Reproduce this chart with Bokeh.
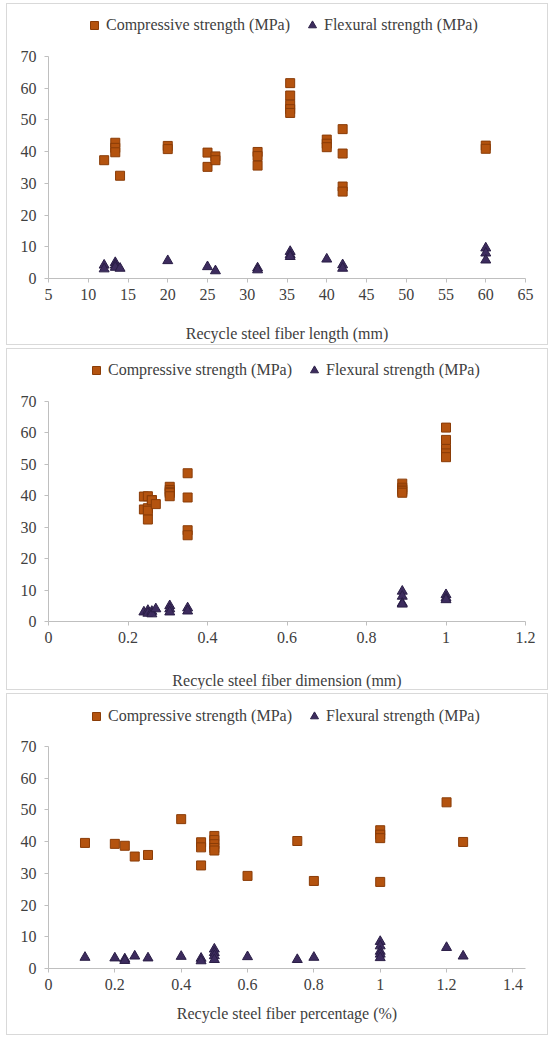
from bokeh.plotting import figure
from bokeh.models import Range1d, FixedTicker, Legend, LegendItem
from bokeh.layouts import column
from bokeh.embed import file_html
from bokeh.resources import INLINE

# ---------------- data ----------------
# Panel 1: fiber length (mm)
len_x_c = [12, 13.4, 13.4, 13.4, 14, 20, 20, 25, 25, 26, 26, 31.3, 31.3, 31.3,
           35.4, 35.4, 35.4, 35.4, 35.4, 40, 40, 40, 42, 42, 42, 42, 60, 60]
len_y_c = [37.3, 42.8, 41.2, 39.8, 32.4, 41.8, 40.8, 39.7, 35.2, 38.5, 37.3, 39.9, 38.6, 35.6,
           61.6, 57.7, 54.8, 53.4, 52.2, 43.8, 42.5, 41.4, 47.1, 39.4, 29.0, 27.4, 41.9, 40.9]
len_x_f = [12, 12, 13.4, 13.4, 13.4, 14, 20, 25, 26, 31.3, 31.3, 35.4, 35.4, 35.4,
           40, 42, 42, 60, 60, 60]
len_y_f = [4.2, 3.0, 5.0, 4.2, 3.5, 3.2, 5.6, 3.7, 2.4, 3.3, 2.7, 8.5, 7.5, 6.9,
           6.1, 4.3, 3.2, 9.6, 8.0, 5.8]

# Panel 2: fiber dimension (mm)
dim_x_c = [0.24, 0.24, 0.25, 0.25, 0.25, 0.25, 0.26, 0.26, 0.27, 0.305, 0.305, 0.305, 0.305, 0.305,
           0.35, 0.35, 0.35, 0.35, 0.89, 0.89, 0.89, 0.89, 0.89, 1.0, 1.0, 1.0, 1.0, 1.0]
dim_y_c = [39.7, 35.6, 39.8, 36.0, 35.2, 32.4, 38.6, 38.5, 37.3, 42.8, 41.8, 41.2, 40.8, 39.8,
           47.1, 39.4, 29.0, 27.4, 43.8, 42.5, 41.9, 41.4, 40.9, 61.6, 57.7, 54.8, 53.4, 52.2]
dim_x_f = [0.24, 0.25, 0.25, 0.26, 0.26, 0.27, 0.305, 0.305, 0.305, 0.35, 0.35,
           0.89, 0.89, 0.89, 0.89, 1.0, 1.0, 1.0]
dim_y_f = [3.0, 3.5, 2.6, 3.2, 2.4, 4.0, 5.0, 4.0, 3.0, 4.3, 3.3,
           9.6, 8.0, 5.8, 5.5, 8.5, 7.5, 6.9]

# Panel 3: fiber percentage (%)
pct_x_c = [0.11, 0.2, 0.23, 0.26, 0.3, 0.4, 0.46, 0.46, 0.46, 0.5, 0.5, 0.5, 0.5, 0.5,
           0.6, 0.75, 0.8, 1.0, 1.0, 1.0, 1.0, 1.2, 1.25]
pct_y_c = [39.6, 39.3, 38.7, 35.3, 35.8, 47.1, 39.8, 38.2, 32.5, 41.8, 40.5, 39.2, 38.0, 37.2,
           29.2, 40.2, 27.6, 43.6, 42.2, 41.1, 27.3, 52.4, 39.9]
pct_x_f = [0.11, 0.2, 0.23, 0.23, 0.26, 0.3, 0.4, 0.46, 0.46, 0.5, 0.5, 0.5, 0.5,
           0.6, 0.75, 0.8, 1.0, 1.0, 1.0, 1.0, 1.0, 1.2, 1.25]
pct_y_f = [3.5, 3.3, 3.0, 2.5, 3.9, 3.3, 3.8, 3.2, 2.4, 6.1, 5.0, 4.0, 2.8,
           3.7, 2.8, 3.5, 8.5, 7.1, 5.4, 4.5, 3.4, 6.6, 3.9]

series_names = ["Compressive strength (MPa)", "Flexural strength (MPa)"]

y_ticks = [0, 10, 20, 30, 40, 50, 60, 70]
y_labels = ["0", "10", "20", "30", "40", "50", "60", "70"]
len_ticks = [5, 10, 15, 20, 25, 30, 35, 40, 45, 50, 55, 60, 65]
len_labels = ["5", "10", "15", "20", "25", "30", "35", "40", "45", "50", "55", "60", "65"]
dim_ticks = [0, 0.2, 0.4, 0.6, 0.8, 1.0, 1.2]
dim_labels = ["0", "0.2", "0.4", "0.6", "0.8", "1", "1.2"]
pct_ticks = [0, 0.2, 0.4, 0.6, 0.8, 1.0, 1.2, 1.4]
pct_labels = ["0", "0.2", "0.4", "0.6", "0.8", "1", "1.2", "1.4"]

x_titles = ["Recycle steel fiber length (mm)",
            "Recycle steel fiber dimension (mm)",
            "Recycle steel fiber percentage (%)"]

# ---------------- style ----------------
FONT = "'Liberation Serif', 'Times New Roman', serif"
SQ_FILL, SQ_LINE = "#B4530F", "#8A3C07"
TR_FILL, TR_LINE = "#3D2C5E", "#2A1E46"
AXIS_C = "#BFBFBF"
TEXT_C = "#404040"

FIG_W, FIG_H = 542, 342
TOP_B, BOT_B = 8, 68
AXIS_PX = 222                      # pixel height of the 0..70 axis
FRAME_H = FIG_H - TOP_B - BOT_B     # frame also holds the legend strip
Y_MAX, Y_TOP = 70, 70 * FRAME_H / AXIS_PX


def style_axis(ax, ticks, labels):
    ax.ticker = FixedTicker(ticks=ticks)
    ax.major_label_overrides = {t: l for t, l in zip(ticks, labels)}
    ax.axis_line_color = AXIS_C
    ax.major_tick_line_color = AXIS_C
    ax.major_tick_out = 4
    ax.major_tick_in = 0
    ax.minor_tick_line_color = None
    ax.major_label_text_font = FONT
    ax.major_label_text_font_size = "16px"
    ax.major_label_text_color = TEXT_C
    ax.axis_label_text_font = FONT
    ax.axis_label_text_font_size = "16px"
    ax.axis_label_text_font_style = "normal"
    ax.axis_label_text_color = TEXT_C


def make_panel(xc, yc, xf, yf, xticks, xlabels, xr, title, mbl, mbr, title_standoff, leg_xy):
    p = figure(width=FIG_W, height=FIG_H, x_range=Range1d(*xr), y_range=Range1d(0, Y_TOP),
               output_backend="svg", toolbar_location=None,
               min_border_left=mbl, min_border_right=mbr,
               min_border_top=TOP_B, min_border_bottom=BOT_B,
               background_fill_color="white", border_fill_color="white",
               styles={"border": "1px solid #D9D9D9"})
    p.grid.visible = False
    p.outline_line_color = None
    r1 = p.scatter(xc, yc, marker="square", size=9, fill_color=SQ_FILL, line_color=SQ_LINE, line_width=1)
    r2 = p.scatter(xf, yf, marker="triangle", size=10, fill_color=TR_FILL, line_color=TR_LINE, line_width=1)
    style_axis(p.xaxis[0], xticks, xlabels)
    style_axis(p.yaxis[0], y_ticks, y_labels)
    p.yaxis.bounds = (0, Y_MAX)
    p.xaxis.major_label_standoff = 6
    p.yaxis.major_label_standoff = 8
    p.xaxis.axis_label = title
    p.xaxis.axis_label_standoff = title_standoff
    leg = Legend(items=[LegendItem(label=series_names[0], renderers=[r1]),
                        LegendItem(label=series_names[1], renderers=[r2])],
                 orientation="horizontal", location=leg_xy,
                 padding=0, margin=0, spacing=12, label_standoff=2,
                 glyph_width=20, glyph_height=20,
                 border_line_color=None, background_fill_alpha=0,
                 label_text_font=FONT, label_text_font_size="16px", label_text_color=TEXT_C)
    p.add_layout(leg, "center")
    return p


p1 = make_panel(len_x_c, len_y_c, len_x_f, len_y_f, len_ticks, len_labels, (5, 65),
                x_titles[0], 41, 18, 22, (36, 243))
p2 = make_panel(dim_x_c, dim_y_c, dim_x_f, dim_y_f, dim_ticks, dim_labels, (0, 1.2),
                x_titles[1], 38, 20, 26, (38, 241))
p3 = make_panel(pct_x_c, pct_y_c, pct_x_f, pct_y_f, pct_ticks, pct_labels, (0, 1.438),
                x_titles[2], 38, 24, 12, (38, 242))

layout = column(p1, p2, p3, spacing=3, margin=(3, 0, 0, 6))

open("out.html", "w").write(file_html(layout, INLINE))
